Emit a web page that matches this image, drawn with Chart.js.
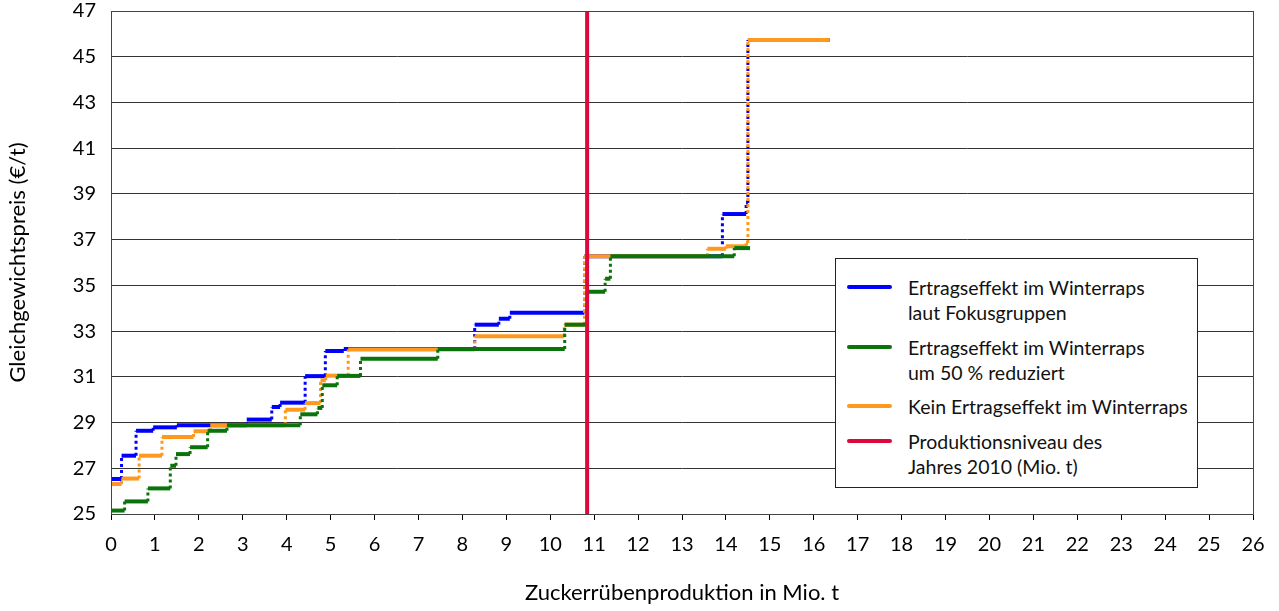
<!DOCTYPE html>
<html>
<head>
<meta charset="utf-8">
<script src="https://cdn.jsdelivr.net/npm/chart.js@4.4.0/dist/chart.umd.min.js"></script>
<style>
  body { margin: 0; background: #fff; }
  #wrap { position: relative; width: 1279px; height: 611px; }
  #legend {
    position: absolute; left: 835px; top: 258px; width: 363px; height: 230px;
    border: 1px solid #222; background: #fff; box-sizing: border-box;
    font-family: Lato, sans-serif; font-size: 19.5px; color: #111;
  }
  .item { position: absolute; left: 72px; line-height: 25px; white-space: nowrap; }
  .swatch { position: absolute; left: -61px; top: 10px; width: 45px; height: 4px; border-radius: 2px; }
</style>
</head>
<body>
<div id="wrap">
  <canvas id="chart" width="1279" height="611"></canvas>
  <div id="legend">
    <div class="item" style="top:16px"><span class="swatch" style="background:#0000ff"></span>Ertragseffekt im Winterraps<br>laut Fokusgruppen</div>
    <div class="item" style="top:76px"><span class="swatch" style="background:#0a740a"></span>Ertragseffekt im Winterraps<br>um 50 % reduziert</div>
    <div class="item" style="top:135px"><span class="swatch" style="background:#ff981f"></span>Kein Ertragseffekt im Winterraps</div>
    <div class="item" style="top:170px"><span class="swatch" style="background:#dc0a3c"></span>Produktionsniveau des<br>Jahres 2010 (Mio. t)</div>
  </div>
</div>
<script>
// Stufen: Grenzen (Mio. t) und Gleichgewichtspreise (€/t)
const xFokus = [0, 0.24, 0.57, 0.96, 1.5, 3.09, 3.66, 3.85, 4.42, 4.88, 5.3, 8.28, 8.83, 9.08, 10.78, 13.92, 14.46, 14.5, 16.36];
const yFokus = [26.53, 27.55, 28.64, 28.79, 28.88, 29.13, 29.68, 29.87, 31.03, 32.13, 32.22, 33.28, 33.54, 33.8, 36.27, 38.12, 38.6, 45.73];

const xReduziert = [0, 0.31, 0.84, 1.35, 1.48, 1.8, 2.2, 2.64, 4.31, 4.7, 4.81, 5.15, 5.68, 7.44, 10.33, 10.84, 11.25, 11.37, 14.19, 14.55];
const yReduziert = [25.15, 25.55, 26.12, 27.11, 27.62, 27.92, 28.64, 28.88, 29.36, 29.64, 30.63, 31.04, 31.79, 32.22, 33.28, 34.72, 35.29, 36.27, 36.63];

const xKein = [0, 0.24, 0.64, 1.16, 1.88, 2.26, 3.97, 4.42, 4.77, 4.89, 5.4, 8.28, 10.32, 10.78, 13.58, 14.0, 14.46, 14.5, 16.36];
const yKein = [26.31, 26.55, 27.55, 28.37, 28.62, 28.88, 29.56, 29.85, 30.85, 31.05, 32.2, 32.77, 33.28, 36.27, 36.6, 36.71, 36.85, 45.73];

const produktion2010 = 10.84;
const yRange = [25, 47];

function stepPoints(xs, ys) {
  let pts = [];
  for (let i = 0; i < ys.length; i++) {
    pts.push({ x: xs[i], y: ys[i] });
    pts.push({ x: xs[i + 1], y: ys[i] });
  }
  return pts;
}

// senkrechte Stufen gepunktet, waagerechte durchgezogen
const stepSegment = {
  borderDash: ctx => ctx.p0.parsed.x === ctx.p1.parsed.x ? [3, 3] : undefined,
  borderWidth: ctx => ctx.p0.parsed.x === ctx.p1.parsed.x ? 3 : 4
};

const frame = {
  id: "frame",
  afterDraw(chart) {
    const a = chart.chartArea, c = chart.ctx;
    c.save();
    c.strokeStyle = "#444";
    c.lineWidth = 1;
    c.strokeRect(Math.round(a.left) + 0.5, Math.round(a.top) + 0.5, Math.round(a.right - a.left), Math.round(a.bottom - a.top));
    c.restore();
  }
};

const font = { family: "Lato, sans-serif", size: 20 };
const titleFont = { family: "Lato, sans-serif", size: 22 };

new Chart(document.getElementById("chart"), {
  type: "line",
  data: {
    datasets: [
      {
        label: "Produktionsniveau des Jahres 2010 (Mio. t)",
        data: [{ x: produktion2010, y: yRange[0] }, { x: produktion2010, y: yRange[1] }],
        borderColor: "#dc0a3c", borderWidth: 4, pointRadius: 0, order: 0
      },
      {
        label: "Ertragseffekt im Winterraps um 50 % reduziert",
        data: stepPoints(xReduziert, yReduziert),
        borderColor: "#0a740a", pointRadius: 0, segment: stepSegment, order: 1
      },
      {
        label: "Kein Ertragseffekt im Winterraps",
        data: stepPoints(xKein, yKein),
        borderColor: "#ff981f", pointRadius: 0, segment: stepSegment, order: 2
      },
      {
        label: "Ertragseffekt im Winterraps laut Fokusgruppen",
        data: stepPoints(xFokus, yFokus),
        borderColor: "#0000ff", pointRadius: 0, segment: stepSegment, order: 3
      }
    ]
  },
  options: {
    responsive: false,
    animation: false,
    layout: { padding: { top: 11, right: 26, left: 0, bottom: 0 } },
    plugins: { legend: { display: false }, tooltip: { enabled: false } },
    scales: {
      x: {
        type: "linear", min: 0, max: 26,
        afterFit: s => { s.height = 97; s.paddingLeft = 0; s.paddingRight = 0; },
        ticks: { stepSize: 1, padding: 13, color: "#000", font: font, maxRotation: 0 },
        grid: { drawOnChartArea: false, tickLength: 6, color: "#000" },
        border: { color: "#000" },
        title: { display: true, text: "Zuckerrübenproduktion in Mio. t", color: "#000", font: titleFont, padding: { top: 0, bottom: 5 } }
      },
      y: {
        min: yRange[0], max: yRange[1],
        afterFit: s => { s.width = 111; s.paddingTop = 0; s.paddingBottom = 0; },
        ticks: { stepSize: 2, padding: 15, color: "#000", font: font },
        grid: { drawTicks: false, color: "#333" },
        border: { color: "#000" },
        title: { display: true, text: "Gleichgewichtspreis (€/t)", color: "#000", font: titleFont, padding: { top: 5, bottom: 0 } }
      }
    }
  },
  plugins: [frame]
});
</script>
</body>
</html>
